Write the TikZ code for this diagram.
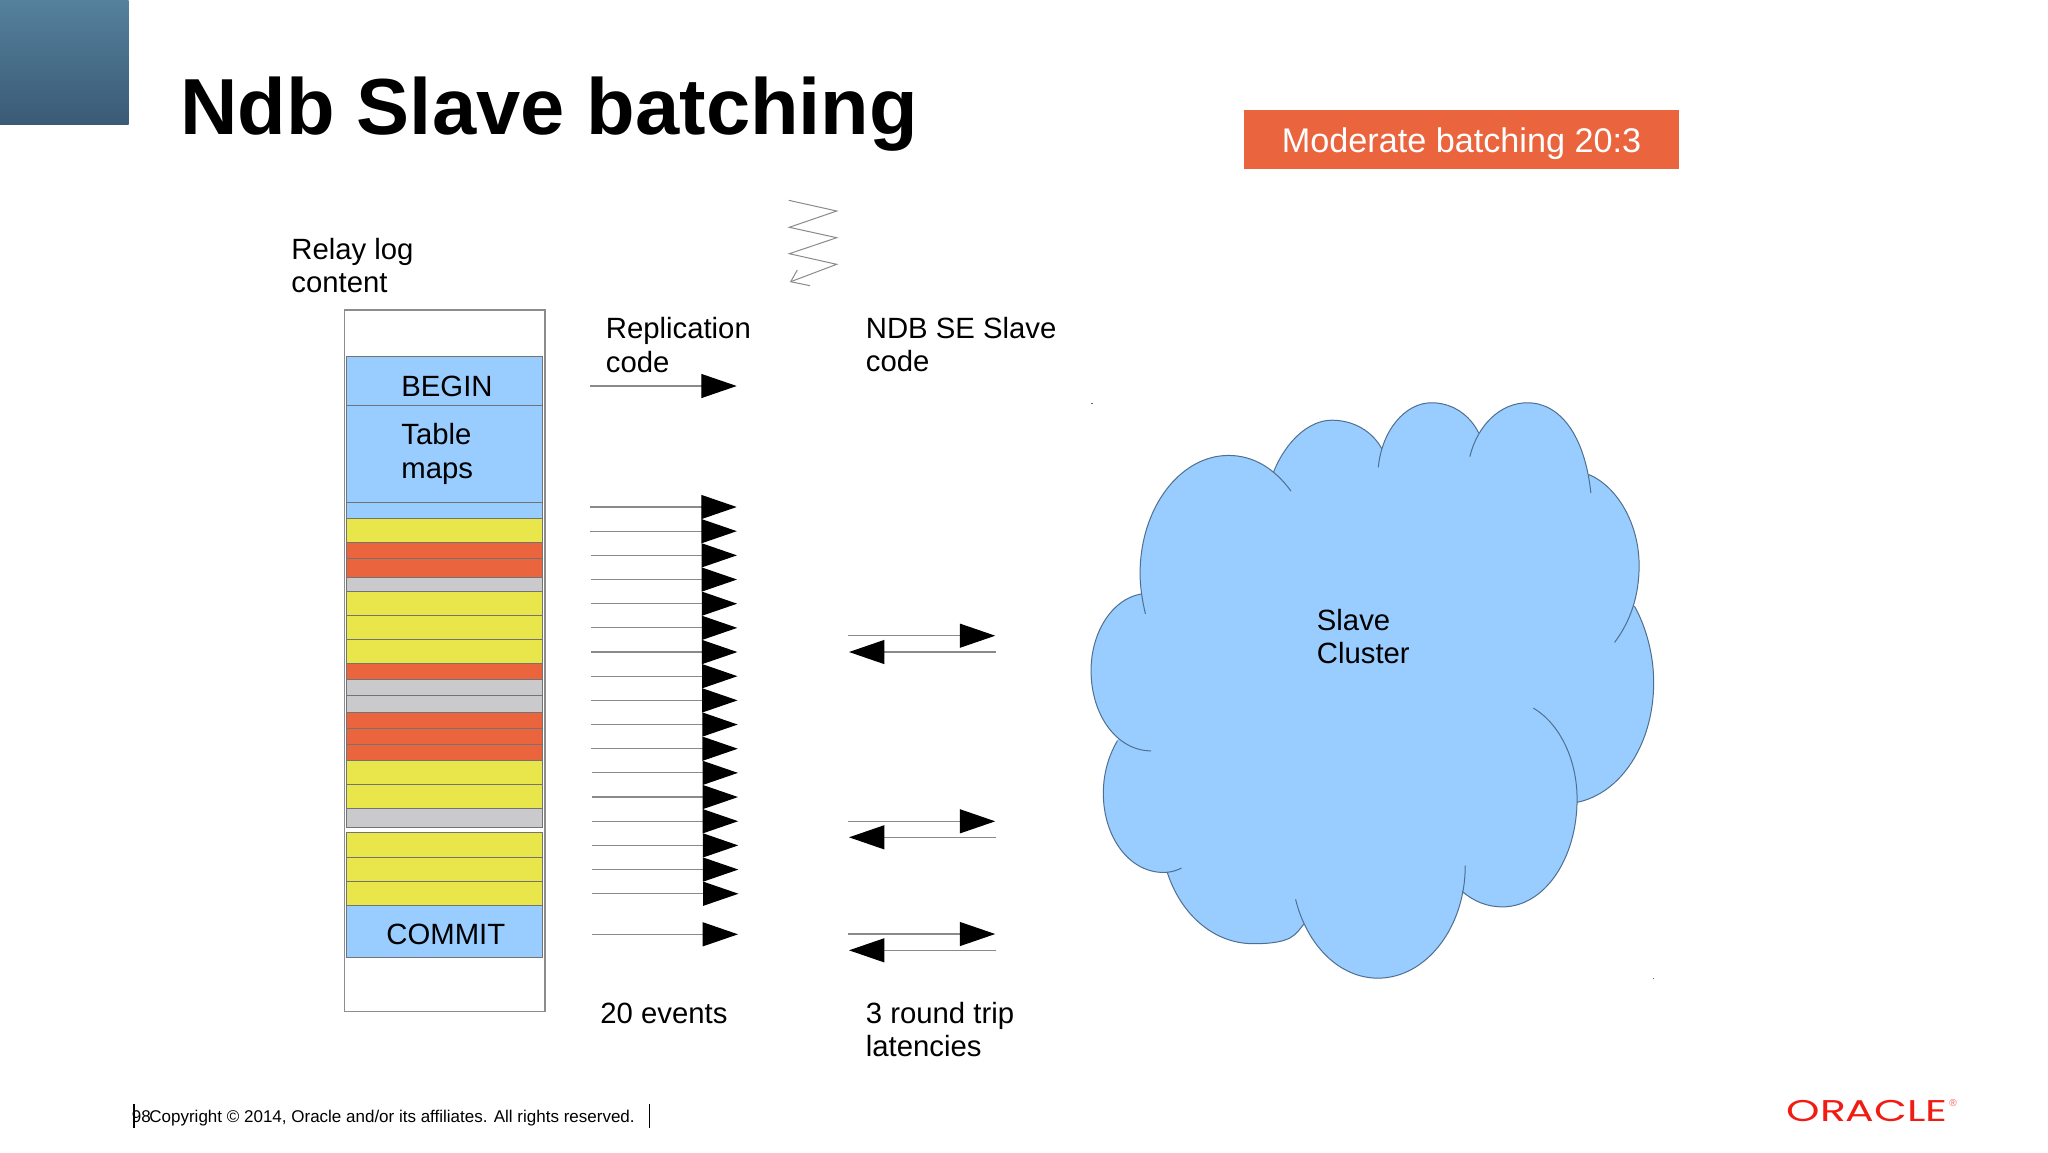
\documentclass[tikz,border=0pt]{standalone}
\usepackage{fontspec}
\setmainfont{Liberation Sans}
\newfontfamily\logofont{Poppins}
\usetikzlibrary{arrows.meta}
\definecolor{blueC}{HTML}{99CCFF}
\definecolor{yellowC}{HTML}{E8E64A}
\definecolor{orangeC}{HTML}{EA643E}
\definecolor{greyC}{HTML}{CACACC}
\definecolor{lineC}{HTML}{8A8A8A}
\definecolor{oracleC}{HTML}{F01C14}
\definecolor{cornerTop}{HTML}{54819D}
\definecolor{cornerBot}{HTML}{3A5A75}
\definecolor{cloudEdge}{HTML}{4F6F8F}
\newcommand\lobeA{(198,592) .. controls (190,560) and (184,525) .. (184,490) .. controls (184,325) and (288,192) .. (415,192) .. controls (480,192) and (535,225) .. (578,282)}
\newcommand\lobeB{(532,235) .. controls (565,155) and (625,103) .. (685,103) .. controls (740,103) and (790,130) .. (815,175)}
\newcommand\lobeC{(806,222) .. controls (815,130) and (875,59) .. (945,59) .. controls (1000,59) and (1045,90) .. (1068,135)}
\newcommand\lobeD{(1045,195) .. controls (1065,115) and (1125,59) .. (1195,59) .. controls (1280,59) and (1345,140) .. (1361,287)}
\newcommand\lobeE{(1355,240) .. controls (1430,270) and (1487,365) .. (1487,470) .. controls (1487,545) and (1465,610) .. (1423,664)}
\newcommand\lobeF{(1475,573) .. controls (1505,625) and (1525,695) .. (1525,765) .. controls (1525,920) and (1440,1045) .. (1325,1068)}
\newcommand\lobeG{(1211,830) .. controls (1280,870) and (1325,960) .. (1325,1060) .. controls (1325,1210) and (1240,1332) .. (1130,1332) .. controls (1090,1332) and (1055,1318) .. (1025,1293)}
\newcommand\lobeH{(1033,1228) .. controls (1033,1385) and (930,1512) .. (805,1512) .. controls (705,1512) and (620,1430) .. (590,1313)}
\newcommand\lobeI{(612,1375) .. controls (590,1400) and (585,1425) .. (480,1425) .. controls (375,1425) and (290,1350) .. (255,1245)}
\newcommand\lobeJ{(292,1234) .. controls (280,1240) and (265,1245) .. (245,1245) .. controls (155,1245) and (88,1155) .. (88,1045) .. controls (88,995) and (102,950) .. (125,912)}
\newcommand\lobeK{(213,938) .. controls (125,938) and (56,850) .. (56,735) .. controls (56,640) and (110,555) .. (186,542)}
\tikzset{
  lbl/.style={anchor=base west,inner sep=0pt,align=left,text=black,font=\fontsize{14.65pt}{16.7pt}\selectfont},
  rowbox/.style={draw=black!55,line width=0.5pt},
  evline/.style={draw=lineC,line width=0.6pt,-{Triangle[length=17.7pt,width=12pt,black]}},
  cloudline/.style={draw=cloudEdge,line width=0.5pt}
}
\begin{document}
\begin{tikzpicture}[x=0.5pt,y=-0.5pt]
\useasboundingbox (0,0) rectangle (2048,1152);
\fill[white] (0,0) rectangle (2048,1152);
% corner square
\shade[top color=cornerTop,bottom color=cornerBot] (0,0) rectangle (128.7,124.7);
% title and badge
\node[lbl,font=\fontsize{39.75pt}{44pt}\selectfont\bfseries] (title) at (180,134.5) {Ndb Slave batching};
\node[fill=orangeC,minimum width=217.5pt,inner sep=0pt,text height=21.1pt,text depth=8.4pt,text=white,font=\fontsize{17.1pt}{20pt}\selectfont] (badge) at (1461.5,139.5) {Moderate batching 20:3};
% relay log
\node[lbl] (relay) at (291,292.5) {Relay log\\content};
\draw[draw=black!45,fill=white,line width=0.7pt] (344.3,310) rectangle (545,1011.7);
\foreach \a/\b/\c in {356.7/405.3/blueC,405.3/502/blueC,502/518/blueC,518/542.3/yellowC,542.3/558.3/orangeC,558.3/577.7/orangeC,577.7/591/greyC,591/615/yellowC,615/639.3/yellowC,639.3/663.3/yellowC,663.3/679.3/orangeC,679.3/695.3/greyC,695.3/712/greyC,712/728.3/orangeC,728.3/744/orangeC,744/760.3/orangeC,760.3/784.7/yellowC,784.7/808.7/yellowC,808.7/827.7/greyC,832.7/857/yellowC,857/881.3/yellowC,881.3/905.3/yellowC,905.3/957.7/blueC}
  \draw[rowbox,fill=\c] (346.3,\a) rectangle (542.3,\b);
\node[lbl] (begin) at (401,396) {BEGIN};
\node[lbl] (maps) at (401,478) {Table\\maps};
\node[lbl] (commit) at (386,944) {COMMIT};
% replication code arrows
\node[lbl] (repl) at (605.5,372) {Replication\\code};
\coordinate (topS) at (590.3,386);
\coordinate (topE) at (736.7,386);
\draw[evline] (topS) -- (topE);
\foreach \i in {0,...,16}{
  \pgfmathsetmacro\yy{507+24.17*\i}
  \pgfmathsetmacro\xa{590.3+0.11*\i}
  \pgfmathsetmacro\xb{736.7+0.11*\i}
  \coordinate (evS\i) at (\xa,\yy);
  \coordinate (evE\i) at (\xb,\yy);
  \draw[evline] (evS\i) -- (evE\i);
}
\coordinate (botS) at (592,934.3);
\coordinate (botE) at (738,934.3);
\draw[evline] (botS) -- (botE);
\node[lbl] (events) at (600,1023) {20 events};
% zigzag
\coordinate (z0) at (788.7,200.3);
\coordinate (z1) at (836.7,211);
\coordinate (z2) at (789.3,227.3);
\coordinate (z3) at (836.7,237.7);
\coordinate (z4) at (789.3,253.7);
\coordinate (z5) at (836.7,264.3);
\coordinate (z6) at (790.7,281.7);
\coordinate (zb1) at (797.3,270);
\coordinate (zb2) at (810,285.7);
\draw[lineC,line width=0.5pt] (z0) -- (z1) -- (z2) -- (z3) -- (z4) -- (z5) -- (z6);
\draw[lineC,line width=0.5pt] (zb1) -- (z6) -- (zb2);
% slave code
\node[lbl] (ndb) at (865.5,371.7) {NDB SE Slave\\code};
\foreach \n/\ya/\yb in {a/635.7/652,b/821.3/837.3,c/934/950.3}{
  \coordinate (rS\n) at (848.3,\ya);
  \coordinate (rE\n) at (995.2,\ya);
  \coordinate (lS\n) at (995.7,\yb);
  \coordinate (lE\n) at (849,\yb);
  \draw[evline] (rS\n) -- (rE\n);
  \draw[evline] (lS\n) -- (lE\n);
}
\node[lbl] (rtt) at (865.5,1056.5) {3 round trip\\latencies};
% cloud
\begin{scope}[shift={(1069.6,379.4)},xscale=0.3830,yscale=0.3960]
  \fill[blueC] \lobeA -- cycle \lobeB -- cycle \lobeC -- cycle \lobeD -- cycle \lobeE -- cycle \lobeF -- cycle \lobeG -- cycle \lobeH -- cycle \lobeI -- cycle \lobeJ -- cycle \lobeK -- cycle
    (186,542) -- (532,235) -- (815,175) -- (1068,135) -- (1355,240) -- (1475,573) -- (1325,1068) -- (1025,1293) -- (612,1375) -- (255,1245) -- (125,912) -- cycle;
  \foreach \L in {\lobeA,\lobeB,\lobeC,\lobeD,\lobeE,\lobeF,\lobeG,\lobeH,\lobeI,\lobeJ,\lobeK}
    \draw[cloudline] \L;
\end{scope}
\node[lbl,font=\fontsize{14.65pt}{16.5pt}\selectfont] (cluster) at (1316.5,663.5) {Slave\\Cluster};
\fill[black!60] (1091,402.5) rectangle (1093,403.5);
\fill[black!60] (1653,977.5) rectangle (1654,978.5);
% footer
\node[lbl,font=\fontsize{8.5pt}{10pt}\selectfont] (pageno) at (131.5,1122) {98};
\node[lbl,font=\fontsize{8.5pt}{10pt}\selectfont] (copy) at (149,1122) {Copyright © 2014, Oracle and/or its affiliates. All rights reserved.};
\draw[black,line width=0.75pt] (133.8,1104) -- (133.8,1128.2);
\draw[black,line width=0.75pt] (649.3,1104) -- (649.3,1128.2);
% logo
\node[anchor=base west,inner sep=0pt,xscale=1.42,text=oracleC,font=\fontsize{15pt}{16pt}\logofont\selectfont] (oracle) at (1786,1121.7) {ORACLE};
\node[anchor=base west,inner sep=0pt,text=oracleC!70,font=\fontsize{5pt}{6pt}\selectfont] (reg) at (1949,1106) {®};
\end{tikzpicture}
\end{document}
